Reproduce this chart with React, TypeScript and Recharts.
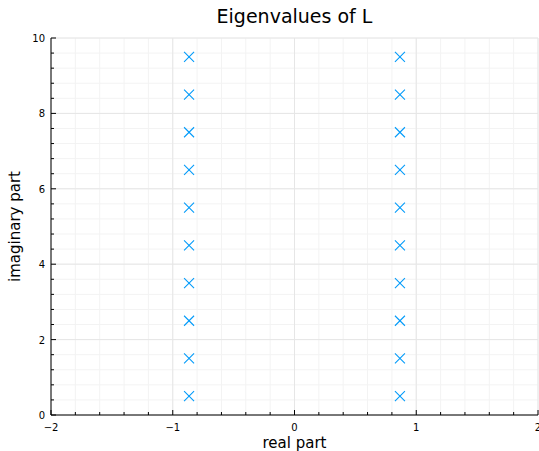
import { ScatterChart, Scatter, XAxis, YAxis, CartesianGrid, ReferenceLine, Label } from 'recharts';

// eigenvalues sit on two vertical lines, re = ±√3/2
const realParts = [-0.866, 0.866];
const imagParts = [0.5, 1.5, 2.5, 3.5, 4.5, 5.5, 6.5, 7.5, 8.5, 9.5];

const xTicks = [-2, -1.8, -1.6, -1.4, -1.2, -1, -0.8, -0.6, -0.4, -0.2, 0, 0.2, 0.4, 0.6, 0.8, 1, 1.2, 1.4, 1.6, 1.8, 2];
const xMajor = [-2, -1, 0, 1, 2];
const yTicks = [0, 0.4, 0.8, 1.2, 1.6, 2, 2.4, 2.8, 3.2, 3.6, 4, 4.4, 4.8, 5.2, 5.6, 6, 6.4, 6.8, 7.2, 7.6, 8, 8.4, 8.8, 9.2, 9.6, 10];
const yMajor = [0, 2, 4, 6, 8, 10];

const points = realParts.flatMap((re) => imagParts.map((im) => ({ re, im })));

const COLOR = '#009AFA';
const FONT = '"DejaVu Sans", sans-serif';

const fmt = (v: number) => (v < 0 ? `\u2212${Math.abs(v)}` : `${v}`);

const XTick = ({ x, y, payload }: any) => {
  const major = xMajor.includes(payload.value);
  return (
    <g>
      <line x1={x} x2={x} y1={y} y2={y - (major ? 5 : 3)} stroke="#000" strokeWidth={1} />
      {major ? (
        <text x={x} y={y + 16} textAnchor="middle" fontSize={10} fontFamily={FONT} fill="#000">
          {fmt(payload.value)}
        </text>
      ) : null}
    </g>
  );
};

const YTick = ({ x, y, payload }: any) => {
  const major = yMajor.includes(payload.value);
  return (
    <g>
      <line x1={x} x2={x + (major ? 5 : 3)} y1={y} y2={y} stroke="#000" strokeWidth={1} />
      {major ? (
        <text x={x - 6} y={y + 4} textAnchor="end" fontSize={10} fontFamily={FONT} fill="#000">
          {fmt(payload.value)}
        </text>
      ) : null}
    </g>
  );
};

const Cross = ({ cx, cy }: any) => (
  <g stroke={COLOR} strokeWidth={1.1}>
    <line x1={cx - 5} y1={cy - 5} x2={cx + 5} y2={cy + 5} />
    <line x1={cx - 5} y1={cy + 5} x2={cx + 5} y2={cy - 5} />
  </g>
);

export default function App() {
  return (
    <div style={{ position: 'absolute', left: 0, top: 0, width: 539, height: 451, background: '#fff' }}>
      <div
        style={{
          position: 'absolute',
          left: 51,
          width: 487,
          top: 5,
          textAlign: 'center',
          fontFamily: FONT,
          fontSize: 19,
          color: '#000',
        }}
      >
        Eigenvalues of L
      </div>
      <ScatterChart width={539} height={451} margin={{ top: 38, right: 1, left: 0, bottom: 0 }}>
        <CartesianGrid stroke="#f3f3f3" strokeWidth={1} />
        {xMajor.map((v) => (
          <ReferenceLine key={`x${v}`} x={v} stroke="#e6e6e6" strokeWidth={1} />
        ))}
        {yMajor.map((v) => (
          <ReferenceLine key={`y${v}`} y={v} stroke="#e6e6e6" strokeWidth={1} />
        ))}
        <XAxis
          type="number"
          dataKey="re"
          domain={[-2, 2]}
          ticks={xTicks}
          interval={0}
          height={36}
          tickSize={0}
          tickMargin={0}
          tickLine={false}
          tick={<XTick />}
          axisLine={{ stroke: '#000' }}
        >
          <Label value="real part" position="insideBottom" offset={3} fontSize={15} fontFamily={FONT} fill="#000" />
        </XAxis>
        <YAxis
          type="number"
          dataKey="im"
          domain={[0, 10]}
          ticks={yTicks}
          interval={0}
          width={51}
          tickSize={0}
          tickMargin={0}
          tickLine={false}
          tick={<YTick />}
          axisLine={{ stroke: '#000' }}
        >
          <Label
            value="imaginary part"
            angle={-90}
            position="insideLeft"
            offset={15}
            fontSize={15}
            fontFamily={FONT}
            fill="#000"
            style={{ textAnchor: 'middle' }}
          />
        </YAxis>
        <Scatter data={points} shape={<Cross />} isAnimationActive={false} />
      </ScatterChart>
    </div>
  );
}
